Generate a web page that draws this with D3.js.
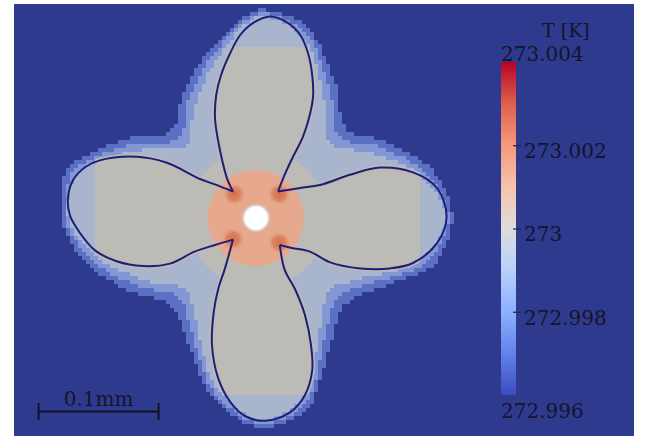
<!DOCTYPE html>
<meta charset="utf-8">
<title>Dendrite temperature field</title>
<style>
    body { margin: 0; background: #fff; }
    svg text { font-family: "DejaVu Serif", serif; fill: #14142c; }
</style>
<script src="https://d3js.org/d3.v7.min.js"></script>
<svg id="field" width="648" height="436"></svg>
<script>
    // solid/liquid interface, micrometres from the seed, one array per arm
    const petalUp = [[-20,22],[-25,33],[-29,48],[-32.5,65],[-35,83],[-34,102.5],[-30,119],[-23,136],[-14,152.5],[-2.5,163],[11,168],[25,163],[36,152.5],[42.5,137.5],[46,119],[46.7,101],[43,82],[38,67],[30,51],[23,36],[17.5,22]];
    const petalRight = [[17.5,22],[36,25],[52.5,27.5],[77.5,36],[102.5,42],[130,38],[150,25],[158,1],[150,-21],[130,-37.5],[111,-42],[86,-42],[61,-37],[44,-28],[29,-25],[19,-22.5]];
    const petalDown = [[19,-22.5],[23,-43],[32,-60],[40,-81],[45,-106],[46,-127],[40,-147.5],[27.5,-162],[6.7,-169],[-10,-165],[-22.5,-153],[-32.5,-133],[-37.5,-106],[-36,-78],[-32,-58],[-27,-43],[-20,-18]];
    const petalLeft = [[-20,-18],[-35,-22.5],[-52,-28],[-72.5,-38],[-95,-40],[-117,-36],[-135,-27],[-147.5,-12.5],[-156,2.5],[-157.5,17.5],[-153,32],[-143,42.5],[-131,48],[-100,51],[-75,46],[-47.5,32.5],[-35,28],[-20,22]];

    // cooler liquid bands round the crystal: radius (um) every 15 deg, from east, anticlockwise
    const haloOuter = [163,152,126,105,130,164,173,147,122,102,130,162,163,147,122,102,117,152,174,164,122,103,117,152];
    const haloMid   = [160,146,118,96,122,159,170,141,114,93,122,157,160,141,114,93,109,147,171,159,114,94,109,146];
    const haloInner = [157.5,140,109,87,112.5,154,167,135,105,84,113,152,157.5,135,105,84,101,142,168,154,105,85,101,140];
    const bandColors = ["#5b6fc3", "#8397d5", "#a9b4cd"];
    const greyColor = "#bdbbb5";

    // colour map of T [K]
    const tempDomain = [272.996, 273.004];
    const tempTicks = [273.002, 273, 272.998];
    const cmapStops = [[0,"#3b4cc0"],[0.125,"#6282ea"],[0.25,"#8db0fe"],[0.375,"#b8d0f9"],[0.5,"#dddddd"],[0.625,"#f5c4ad"],[0.75,"#f49a7b"],[0.875,"#de604d"],[1,"#b40426"]];

    const svg = d3.select("#field");

    // 1 um = 1.2 px, seed at (257,218)
    const x = d3.scaleLinear().domain([-200, 200]).range([17, 497]);
    const y = d3.scaleLinear().domain([-180, 180]).range([434, 2]);

    svg.append("rect")
        .attr("x", 14).attr("y", 4)
        .attr("width", 620).attr("height", 432)
        .attr("fill", "#2e3a8e");

    const polar = rr => rr.map((r, i) => {
        const a = i * (2 * Math.PI / rr.length);
        return [x(r * Math.cos(a)), y(r * Math.sin(a))];
    });
    const ring = d3.line().curve(d3.curveCardinalClosed.tension(0.1));

    function sampled(d) {
        const p = svg.append("path").attr("d", d).attr("fill", "none");
        const L = p.node().getTotalLength();
        const pts = d3.range(0, L, 2).map(l => {
            const q = p.node().getPointAtLength(l);
            return [q.x, q.y];
        });
        p.remove();
        return pts;
    }

    // the mesh is coarse out here, so the bands come out blocky
    const polys = [haloOuter, haloMid, haloInner].map(r => sampled(ring(polar(r))));
    const cell = 4;
    const cells = [];
    for (let cy0 = 4; cy0 < 436; cy0 += cell) {
        let run = null;
        for (let cx0 = 30; cx0 < 490; cx0 += cell) {
            const c = [cx0 + cell / 2, cy0 + cell / 2];
            let lev = 0;
            for (let k = 0; k < 3; k++) if (d3.polygonContains(polys[k], c)) lev = k + 1;
            if (run && run.lev === lev) run.w += cell;
            else {
                if (run && run.lev) cells.push(run);
                run = {x: cx0, y: cy0, w: cell, lev: lev};
            }
        }
        if (run && run.lev) cells.push(run);
    }
    svg.append("g")
        .attr("shape-rendering", "crispEdges")
        .selectAll("rect")
        .data(cells)
        .join("rect")
        .attr("x", d => d.x).attr("y", d => d.y)
        .attr("width", d => d.w).attr("height", cell)
        .attr("fill", d => bandColors[d.lev - 1]);

    // melting temperature region, shorter than the arms at the tips
    const defs = svg.append("defs");
    const greyArms = [[-135, 136, -75, 75], [-75, 75, -147.5, 142.5]];
    defs.append("clipPath").attr("id", "greyClip")
        .selectAll("rect").data(greyArms).join("rect")
        .attr("x", d => x(d[0])).attr("width", d => x(d[1]) - x(d[0]))
        .attr("y", d => y(d[3])).attr("height", d => y(d[2]) - y(d[3]));

    const petals = [petalUp, petalRight, petalDown, petalLeft];
    const arm = d3.line().x(d => x(d[0])).y(d => y(d[1])).curve(d3.curveCatmullRom);

    const grey = svg.append("g").attr("clip-path", "url(#greyClip)");
    grey.append("circle")
        .attr("cx", x(0)).attr("cy", y(0))
        .attr("r", x(58) - x(0))
        .attr("fill", greyColor);
    grey.selectAll("path").data(petals).join("path")
        .attr("d", d => arm(d) + "Z")
        .attr("fill", greyColor)
        .attr("stroke", greyColor)
        .attr("stroke-width", 5);

    // warm seed region
    const spot = defs.append("radialGradient").attr("id", "spot");
    spot.append("stop").attr("offset", 0).attr("stop-color", "#d66f4b");
    spot.append("stop").attr("offset", 0.55).attr("stop-color", "#dd8564");
    spot.append("stop").attr("offset", 1).attr("stop-color", "#e6a98d").attr("stop-opacity", 0);

    svg.append("circle")
        .attr("cx", x(-1)).attr("cy", y(0))
        .attr("r", x(40) - x(0))
        .attr("fill", "#e6a98d");

    const spots = [[-19, 20], [18.5, 20], [-20, -17.5], [18.5, -20.5]];
    svg.selectAll("circle.spot").data(spots).join("circle")
        .attr("class", "spot")
        .attr("cx", d => x(d[0])).attr("cy", d => y(d[1]))
        .attr("r", 12)
        .attr("fill", "url(#spot)");

    svg.append("circle")
        .attr("cx", x(-0.8)).attr("cy", y(0))
        .attr("r", 14).attr("fill", "#dcc9c0");
    svg.append("circle")
        .attr("cx", x(-0.8)).attr("cy", y(0))
        .attr("r", 12).attr("fill", "#ffffff");

    // interface contour
    svg.append("g").selectAll("path").data(petals).join("path")
        .attr("d", arm)
        .attr("fill", "none")
        .attr("stroke", "#1e1e78")
        .attr("stroke-width", 2);

    // colour bar
    const cy = d3.scaleLinear().domain(tempDomain).range([395, 62]);
    const grad = defs.append("linearGradient").attr("id", "cmap")
        .attr("x1", 0).attr("y1", 1).attr("x2", 0).attr("y2", 0);
    grad.selectAll("stop").data(cmapStops).join("stop")
        .attr("offset", d => d[0])
        .attr("stop-color", d => d[1]);

    svg.append("rect")
        .attr("x", 501).attr("y", cy(tempDomain[1]))
        .attr("width", 15).attr("height", cy(tempDomain[0]) - cy(tempDomain[1]))
        .attr("fill", "url(#cmap)");

    svg.append("g")
        .attr("transform", "translate(516,0)")
        .call(d3.axisRight(cy).tickValues(cy.ticks(40)).tickSize(4).tickFormat(""))
        .call(g => g.select(".domain").remove())
        .call(g => g.selectAll("line").attr("stroke", "#3a3f70"));

    svg.append("g")
        .attr("transform", "translate(513,0)")
        .call(d3.axisRight(cy).tickValues(tempTicks).tickSize(8).tickPadding(3).tickFormat(d3.format("")))
        .call(g => g.select(".domain").remove())
        .call(g => g.selectAll("line").attr("stroke", "#22264f").attr("stroke-width", 1.3))
        .call(g => g.selectAll("text")
            .attr("dy", "0.62em")
            .style("font-family", "DejaVu Serif, serif")
            .style("font-size", "20px")
            .attr("fill", "#14142c"));

    svg.append("text")
        .attr("x", 501).attr("y", 61)
        .style("font-size", "20px")
        .text(d3.format("")(tempDomain[1]));
    svg.append("text")
        .attr("x", 501).attr("y", 418)
        .style("font-size", "20px")
        .text(d3.format("")(tempDomain[0]));
    svg.append("text")
        .attr("x", 542).attr("y", 37)
        .style("font-size", "19px")
        .text("T [K]");

    // scale bar, 0.1 mm
    const sb = svg.append("g").attr("stroke", "#111122").attr("stroke-width", 2);
    sb.append("line").attr("x1", x(-182)).attr("x2", x(-82)).attr("y1", 411.5).attr("y2", 411.5);
    sb.append("line").attr("x1", x(-182)).attr("x2", x(-182)).attr("y1", 403).attr("y2", 420);
    sb.append("line").attr("x1", x(-82)).attr("x2", x(-82)).attr("y1", 403).attr("y2", 420);
    svg.append("text")
        .attr("x", (x(-182) + x(-82)) / 2).attr("y", 406)
        .attr("text-anchor", "middle")
        .style("font-size", "20px")
        .text("0.1mm");
</script>
